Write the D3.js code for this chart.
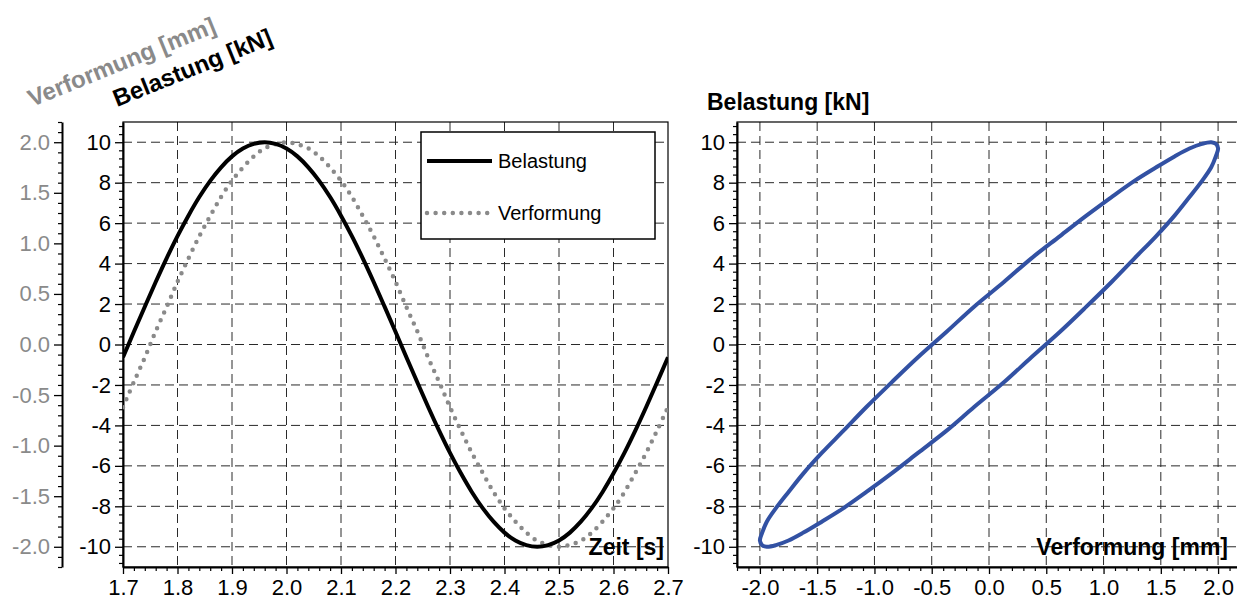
<!DOCTYPE html>
<html><head><meta charset="utf-8">
<script src="https://cdn.jsdelivr.net/npm/d3@7"></script>
<style>body{margin:0;background:#fff;overflow:hidden} text{font-family:"Liberation Sans",Arial,sans-serif}</style>
</head><body><svg id="c" width="1237" height="603"></svg>
<script>
// ---- data ----
const time = [1.70,1.72,1.74,1.76,1.78,1.80,1.82,1.84,1.86,1.88,1.90,1.92,1.94,1.96,1.98,2.00,2.02,2.04,2.06,2.08,2.10,2.12,2.14,2.16,2.18,2.20,2.22,2.24,2.26,2.28,2.30,2.32,2.34,2.36,2.38,2.40,2.42,2.44,2.46,2.48,2.50,2.52,2.54,2.56,2.58,2.60,2.62,2.64,2.66,2.68,2.70];
const belastung = [-0.63,0.63,1.87,3.09,4.26,5.36,6.37,7.29,8.09,8.76,9.30,9.69,9.92,10.00,9.92,9.69,9.30,8.76,8.09,7.29,6.37,5.36,4.26,3.09,1.87,0.63,-0.63,-1.87,-3.09,-4.26,-5.36,-6.37,-7.29,-8.09,-8.76,-9.30,-9.69,-9.92,-10.00,-9.92,-9.69,-9.30,-8.76,-8.09,-7.29,-6.37,-5.36,-4.26,-3.09,-1.87,-0.63];
const verformung = [-0.62,-0.37,-0.13,0.13,0.37,0.62,0.85,1.07,1.27,1.46,1.62,1.75,1.86,1.94,1.98,2.00,1.98,1.94,1.86,1.75,1.62,1.46,1.27,1.07,0.85,0.62,0.37,0.13,-0.13,-0.37,-0.62,-0.85,-1.07,-1.27,-1.46,-1.62,-1.75,-1.86,-1.94,-1.98,-2.00,-1.98,-1.94,-1.86,-1.75,-1.62,-1.46,-1.27,-1.07,-0.85,-0.62];
const timeTicks = [1.7,1.8,1.9,2.0,2.1,2.2,2.3,2.4,2.5,2.6,2.7];
const kNTicks = [-10,-8,-6,-4,-2,0,2,4,6,8,10];
const mmTicks = [-2.0,-1.5,-1.0,-0.5,0.0,0.5,1.0,1.5,2.0];
const seriesNames = ["Belastung","Verformung"];

const GREY = "#8a8a8a", BLUE = "#3251a3";
const FONT = '"Liberation Sans",Arial,sans-serif';
const svg = d3.select("#c");
svg.append("rect").attr("width",1237).attr("height",603).attr("fill","#fff");

// scales
const xT = d3.scaleLinear().domain([1.7,2.7]).range([123,668]);
const yK = d3.scaleLinear().domain([-11,11]).range([567,122]);
const yMM = d3.scaleLinear().domain([-2.2,2.2]).range([567,122]);
const xMM = d3.scaleLinear().domain([-2.2,2.2]).range([737,1241]);

const minorK = d3.range(-27,28).map(i=>+(i*0.4).toFixed(2)).filter(v=>Math.abs(v/2-Math.round(v/2))>1e-6);
const minorMM = d3.range(-22,23).map(i=>+(i*0.1).toFixed(2)).filter(v=>Math.abs(v*2-Math.round(v*2))>1e-6);
const minorT = d3.range(85,136).map(i=>+(i*0.02).toFixed(2)).filter(v=>Math.abs(v*10-Math.round(v*10))>1e-6);

const defs = svg.append("defs");
defs.append("clipPath").attr("id","cl").append("rect").attr("x",123).attr("y",122).attr("width",545).attr("height",445);
defs.append("clipPath").attr("id","cr").append("rect").attr("x",737).attr("y",122).attr("width",504).attr("height",445);

function grid(g, xs, xScale, ys, yScale, x0, x1){
  g.selectAll("line.v").data(xs).join("line").attr("class","v")
    .attr("x1",d=>xScale(d)).attr("x2",d=>xScale(d)).attr("y1",122).attr("y2",567);
  g.selectAll("line.h").data(ys).join("line").attr("class","h")
    .attr("y1",d=>yScale(d)).attr("y2",d=>yScale(d)).attr("x1",x0).attr("x2",x1);
  g.selectAll("line").attr("stroke","#2a2a2a").attr("stroke-width",1).attr("stroke-dasharray","9,5");
}
grid(svg.append("g").attr("clip-path","url(#cl)"), timeTicks.slice(1,-1), xT, kNTicks, yK, 123, 668);
grid(svg.append("g").attr("clip-path","url(#cr)"), mmTicks, xMM, kNTicks, yK, 737, 1241);

// frames
svg.append("rect").attr("x",123).attr("y",122).attr("width",545).attr("height",445).attr("fill","none").attr("stroke","#000").attr("stroke-width",1.2);
svg.append("rect").attr("x",737).attr("y",122).attr("width",520).attr("height",445).attr("fill","none").attr("stroke","#000").attr("stroke-width",1.2);

function styleAxis(g, color, fs){
  g.attr("font-size",fs).attr("font-family",FONT);
  g.select(".domain").attr("stroke","#000").attr("stroke-width",2);
  g.selectAll(".tick line").attr("stroke","#000").attr("stroke-width",1.3);
  g.selectAll(".tick text").attr("fill",color).attr("font-size",fs).style("font-size",fs+"px").style("font-family",FONT);
}
function minor(axisFn, scale, vals, tr){
  const g = svg.append("g").attr("transform",tr).call(axisFn(scale).tickValues(vals).tickSize(4).tickSizeOuter(0).tickFormat(""));
  g.select(".domain").remove();
  g.selectAll(".tick line").attr("stroke","#000").attr("stroke-width",1.2);
}
const f1 = d=>d.toFixed(1);
const TF = 22;

// left chart axes
minor(d3.axisLeft, yK, minorK, "translate(123,0)");
styleAxis(svg.append("g").attr("transform","translate(123,0)")
  .call(d3.axisLeft(yK).tickValues(kNTicks).tickSize(8).tickSizeOuter(0).tickPadding(4).tickFormat(d=>String(d))),"#000",TF);
minor(d3.axisLeft, yMM, minorMM, "translate(62,0)");
styleAxis(svg.append("g").attr("transform","translate(62,0)")
  .call(d3.axisLeft(yMM).tickValues(mmTicks).tickSize(8).tickSizeOuter(0).tickPadding(4).tickFormat(f1)),GREY,TF);
minor(d3.axisBottom, xT, minorT, "translate(0,567)");
styleAxis(svg.append("g").attr("transform","translate(0,567)")
  .call(d3.axisBottom(xT).tickValues(timeTicks).tickSize(7).tickSizeOuter(0).tickPadding(5).tickFormat(f1)),"#000",TF);

// right chart axes
minor(d3.axisLeft, yK, minorK, "translate(737,0)");
styleAxis(svg.append("g").attr("transform","translate(737,0)")
  .call(d3.axisLeft(yK).tickValues(kNTicks).tickSize(8).tickSizeOuter(0).tickPadding(4).tickFormat(d=>String(d))),"#000",TF);
minor(d3.axisBottom, xMM, minorMM, "translate(0,567)");
styleAxis(svg.append("g").attr("transform","translate(0,567)")
  .call(d3.axisBottom(xMM).tickValues(mmTicks).tickSize(7).tickSizeOuter(0).tickPadding(5).tickFormat(f1)),"#000",TF);

// curves
const pts = time.map((t,i)=>({t, k:belastung[i], m:verformung[i]}));
const lineK = d3.line().x(d=>xT(d.t)).y(d=>yK(d.k)).curve(d3.curveCatmullRom);
const lineM = d3.line().x(d=>xT(d.t)).y(d=>yMM(d.m)).curve(d3.curveCatmullRom);
const cl = svg.append("g").attr("clip-path","url(#cl)");
cl.append("path").attr("d",lineM(pts)).attr("fill","none").attr("stroke",GREY)
  .attr("stroke-width",4.5).attr("stroke-linecap","round").attr("stroke-dasharray","0,8.6");
cl.append("path").attr("d",lineK(pts)).attr("fill","none").attr("stroke","#000").attr("stroke-width",4);

const loop = d3.line().x(d=>xMM(d.m)).y(d=>yK(d.k)).curve(d3.curveCatmullRomClosed);
svg.append("g").attr("clip-path","url(#cr)").append("path").attr("d",loop(pts.slice(0,-1)))
  .attr("fill","none").attr("stroke",BLUE).attr("stroke-width",4);

// titles
const bold = (s,fs)=>s.style("font-weight","bold").style("font-size",(fs||23)+"px").style("font-family",FONT);
bold(svg.append("text").attr("transform","translate(32,107) rotate(-22)").attr("fill",GREY).text("Verformung [mm]"),24);
bold(svg.append("text").attr("transform","translate(117,107) rotate(-22)").attr("fill","#000").text("Belastung [kN]"),24);
bold(svg.append("text").attr("x",707).attr("y",110).attr("fill","#000").text("Belastung [kN]"));
bold(svg.append("text").attr("x",664).attr("y",555).attr("text-anchor","end").attr("fill","#000").text("Zeit [s]"));
bold(svg.append("text").attr("x",1228).attr("y",555).attr("text-anchor","end").attr("fill","#000").text("Verformung [mm]"));

// legend
const lg = svg.append("g");
lg.append("rect").attr("x",421).attr("y",132).attr("width",234).attr("height",107).attr("fill","#fff").attr("stroke","#000").attr("stroke-width",1.5);
lg.append("line").attr("x1",427).attr("x2",492).attr("y1",161).attr("y2",161).attr("stroke","#000").attr("stroke-width",4);
lg.append("line").attr("x1",427).attr("x2",490).attr("y1",213).attr("y2",213).attr("stroke",GREY).attr("stroke-width",4.5)
  .attr("stroke-linecap","round").attr("stroke-dasharray","0,8.6");
lg.selectAll("text").data(seriesNames).join("text").attr("x",498).attr("y",(d,i)=>i?213:161)
  .attr("dy","0.35em").style("font-size","20px").style("font-family",FONT).attr("fill","#000").text(d=>d);
</script></body></html>
